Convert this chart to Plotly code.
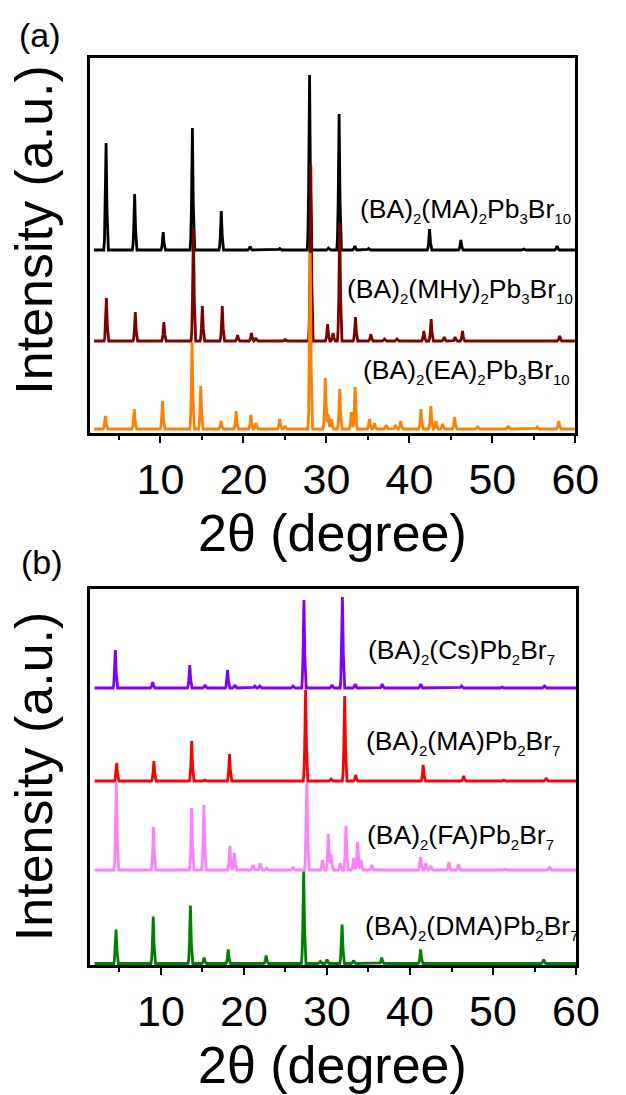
import plotly.graph_objects as go

W, H = 626, 1095
FONT = "Arial, Liberation Sans, sans-serif"

# ---------------- data (peak positions in 2θ, heights in a.u.) ----------------
two_theta_start, two_theta_end = 2.0, 60.0

# panel (a)
a_ma_pos = [3.45, 6.89, 10.33, 13.85, 17.33, 20.8, 24.37, 27.97, 30.25, 31.53, 33.42, 35.08, 42.43, 46.2, 53.8, 57.8]
a_ma_h = [107, 56, 18, 122, 39, 3.5, 1.5, 175, 2, 136, 4, 1.5, 21, 10, 1, 4]
a_ma_offset = 183

a_mhy_pos = [3.49, 6.97, 10.41, 13.97, 15.05, 17.45, 19.3, 20.97, 21.5, 25.0, 28.12, 30.14, 30.8, 31.6, 33.5,
             35.35, 37.0, 38.5, 41.74, 42.62, 44.2, 45.5, 46.4, 58.1]
a_mhy_h = [43, 29, 19, 113, 35, 35, 6, 8, 3, 1.5, 176, 17, 8, 118, 24, 7, 2, 2, 10, 22, 4, 4, 10, 5]
a_mhy_offset = 92

a_ea_pos = [3.37, 6.85, 10.25, 13.81, 14.86, 17.3, 19.12, 20.9, 21.5, 24.37, 25.0, 28.05, 29.86, 30.2, 30.6,
            31.6, 33.0, 33.45, 35.2, 35.8, 37.2, 38.3, 38.95, 41.39, 42.59, 43.2, 44.0, 45.45, 48.2, 51.9, 55.4, 58.0]
a_ea_h = [13, 20, 28, 86, 43, 8, 18, 14, 6, 10, 3, 176, 51, 15, 10, 40, 17, 42, 10, 6, 4, 4, 8, 20, 23, 8, 5,
          12, 2, 3, 2, 8]
a_ea_offset = 4

# panel (b)
b_cs_pos = [4.51, 9.0, 13.47, 15.3, 18.03, 18.9, 21.3, 21.9, 25.9, 27.22, 30.6, 31.86, 33.4, 36.65, 41.3, 46.2, 51.1, 56.2]
b_cs_h = [38, 6, 23, 3, 18, 3, 2, 2, 2, 88, 3, 91, 4, 4, 4, 2, 1, 2]
b_cs_offset = 277

b_ma_pos = [4.67, 9.15, 13.7, 15.3, 18.26, 27.42, 30.5, 32.13, 33.45, 41.59, 46.46, 51.3, 56.4]
b_ma_h = [18, 20, 40, 1, 27, 91, 2, 85, 6, 16, 5, 1, 3]
b_ma_offset = 184

b_fa_pos = [4.63, 9.1, 13.7, 15.17, 18.3, 18.86, 21.1, 21.96, 22.7, 25.9, 27.57, 29.46, 30.16, 30.5, 31.6, 32.29,
            33.2, 33.68, 34.1, 35.4, 41.28, 41.9, 42.5, 44.69, 45.85, 51.5, 56.8]
b_fa_h = [88, 43, 62, 65, 24, 17, 5, 7, 2, 3, 87, 10, 36, 15, 7, 44, 12, 28, 10, 5, 13, 7, 4, 8, 6, 1, 3]
b_fa_offset = 95

b_dma_pos = [4.59, 9.07, 13.55, 15.2, 18.1, 22.67, 27.19, 29.2, 30.0, 31.82, 33.2, 36.6, 41.28, 56.1]
b_dma_h = [34, 47, 58, 6, 14, 8, 92, 2, 4, 39, 3, 6, 14, 4]
b_dma_offset = 1.5

labels_a = ["(BA)<sub>2</sub>(MA)<sub>2</sub>Pb<sub>3</sub>Br<sub>10</sub>",
            "(BA)<sub>2</sub>(MHy)<sub>2</sub>Pb<sub>3</sub>Br<sub>10</sub>",
            "(BA)<sub>2</sub>(EA)<sub>2</sub>Pb<sub>3</sub>Br<sub>10</sub>"]
labels_b = ["(BA)<sub>2</sub>(Cs)Pb<sub>2</sub>Br<sub>7</sub>",
            "(BA)<sub>2</sub>(MA)Pb<sub>2</sub>Br<sub>7</sub>",
            "(BA)<sub>2</sub>(FA)Pb<sub>2</sub>Br<sub>7</sub>",
            "(BA)<sub>2</sub>(DMA)Pb<sub>2</sub>Br<sub>7</sub>"]
x_ticks = [10, 20, 30, 40, 50, 60]

colors_a = ["#000000", "#800000", "#FF8000"]
colors_b = ["#8000FF", "#FF0000", "#FF80FF", "#008000"]

# ---------------- helpers ----------------
HALF_W = 0.28


def peak_profile(d):
    """Shape of one peak at normalised distance d (0 at apex, 1 at foot)."""
    if d >= 1:
        return 0.0
    if d <= 0.4:
        return 1 - d * 1.6
    return 0.36 * ((1 - d) / 0.6) ** 2


def pattern(pos, h, offset):
    xs = {two_theta_start, two_theta_end}
    for p in pos:
        xs.update([p - HALF_W, p - HALF_W * 0.7, p - HALF_W * 0.4, p,
                   p + HALF_W * 0.4, p + HALF_W * 0.7, p + HALF_W])
    xs = sorted(x for x in xs if two_theta_start <= x <= two_theta_end)
    ys = []
    for x in xs:
        v = sum(hh * peak_profile(abs(x - p) / HALF_W) for p, hh in zip(pos, h))
        ys.append(v + offset)
    return xs, ys


def fx(px):
    return px / W


def fy(py):
    return 1 - py / H


def sub_small(s):
    return s.replace("<sub>", "<sub><span style='font-size:15px'>").replace("</sub>", "</span></sub>")


fig = go.Figure()

series_a = [(a_ma_pos, a_ma_h, a_ma_offset), (a_mhy_pos, a_mhy_h, a_mhy_offset), (a_ea_pos, a_ea_h, a_ea_offset)]
for (p, h, o), c in zip(series_a, colors_a):
    x, y = pattern(p, h, o)
    fig.add_trace(go.Scatter(x=x, y=y, mode="lines", line=dict(color=c, width=2.8),
                             xaxis="x", yaxis="y", showlegend=False, hoverinfo="skip"))

series_b = [(b_cs_pos, b_cs_h, b_cs_offset), (b_ma_pos, b_ma_h, b_ma_offset),
            (b_fa_pos, b_fa_h, b_fa_offset), (b_dma_pos, b_dma_h, b_dma_offset)]
for (p, h, o), c in zip(series_b, colors_b):
    x, y = pattern(p, h, o)
    fig.add_trace(go.Scatter(x=x, y=y, mode="lines", line=dict(color=c, width=2.8),
                             xaxis="x2", yaxis="y2", showlegend=False, hoverinfo="skip"))

xaxis_common = dict(range=[1.5, 60], tickvals=x_ticks, ticks="outside", ticklen=7, tickwidth=2,
                    tickcolor="black", showline=True, linecolor="black", linewidth=2.5, mirror=True,
                    showgrid=False, zeroline=False,
                    tickfont=dict(family=FONT, size=43, color="black"),
                    minor=dict(dtick=5, tick0=0, ticks="outside", ticklen=4, tickwidth=2, tickcolor="black"))
yaxis_common = dict(showticklabels=False, ticks="", showline=True, linecolor="black", linewidth=2.5,
                    mirror=True, showgrid=False, zeroline=False)

annotations = []
# panel labels
annotations.append(dict(text="(a)", x=fx(41.5), y=fy(35), xref="paper", yref="paper", showarrow=False,
                        xanchor="center", yanchor="middle", font=dict(family=FONT, size=34, color="black")))
annotations.append(dict(text="(b)", x=fx(43.5), y=fy(562), xref="paper", yref="paper", showarrow=False,
                        xanchor="center", yanchor="middle", font=dict(family=FONT, size=34, color="black")))
# y titles
for yc in (230, 776.5):
    annotations.append(dict(text="Intensity (a.u.)", x=fx(35), y=fy(yc), xref="paper", yref="paper",
                            showarrow=False, textangle=-90, xanchor="center", yanchor="middle",
                            font=dict(family=FONT, size=52, color="black")))
# x titles
for yc in (533, 1065):
    annotations.append(dict(text="2θ (degree)", x=fx(346), y=fy(yc), xref="paper", yref="paper",
                            showarrow=False, xanchor="center", yanchor="middle",
                            font=dict(family=FONT, size=52, color="black")))
# curve labels (panel a right-aligned, panel b left-aligned)
lab_pos_a = [(595.5, 210.5), (598, 290.5), (594.5, 372)]
for t, (lx, ly) in zip(labels_a, lab_pos_a):
    annotations.append(dict(text=sub_small(t), x=fx(lx), y=fy(ly), xref="paper", yref="paper",
                            showarrow=False, xanchor="right", yanchor="middle",
                            font=dict(family=FONT, size=26.5, color="black")))
lab_pos_b = [(380.2, 651.7), (378.5, 742), (379.2, 836.7), (377.5, 927)]
for t, (lx, ly) in zip(labels_b, lab_pos_b):
    annotations.append(dict(text=sub_small(t), x=fx(lx), y=fy(ly), xref="paper", yref="paper",
                            showarrow=False, xanchor="left", yanchor="middle",
                            font=dict(family=FONT, size=26.5, color="black")))

fig.update_layout(
    width=W, height=H, margin=dict(l=0, r=0, t=0, b=0),
    paper_bgcolor="white", plot_bgcolor="white", hovermode=False,
    xaxis=dict(domain=[fx(93.5), fx(598.3)], anchor="y", **xaxis_common),
    yaxis=dict(domain=[fy(433), fy(58)], range=[0, 375], anchor="x", **yaxis_common),
    xaxis2=dict(domain=[fx(94), fx(599)], anchor="y2", **xaxis_common),
    yaxis2=dict(domain=[fy(965), fy(589)], range=[0, 376], anchor="x2", **yaxis_common),
    annotations=annotations,
)

fig.write_html("out.html", config={"displayModeBar": False},
               post_script="document.body.style.margin='0';document.body.style.overflow='hidden';")
